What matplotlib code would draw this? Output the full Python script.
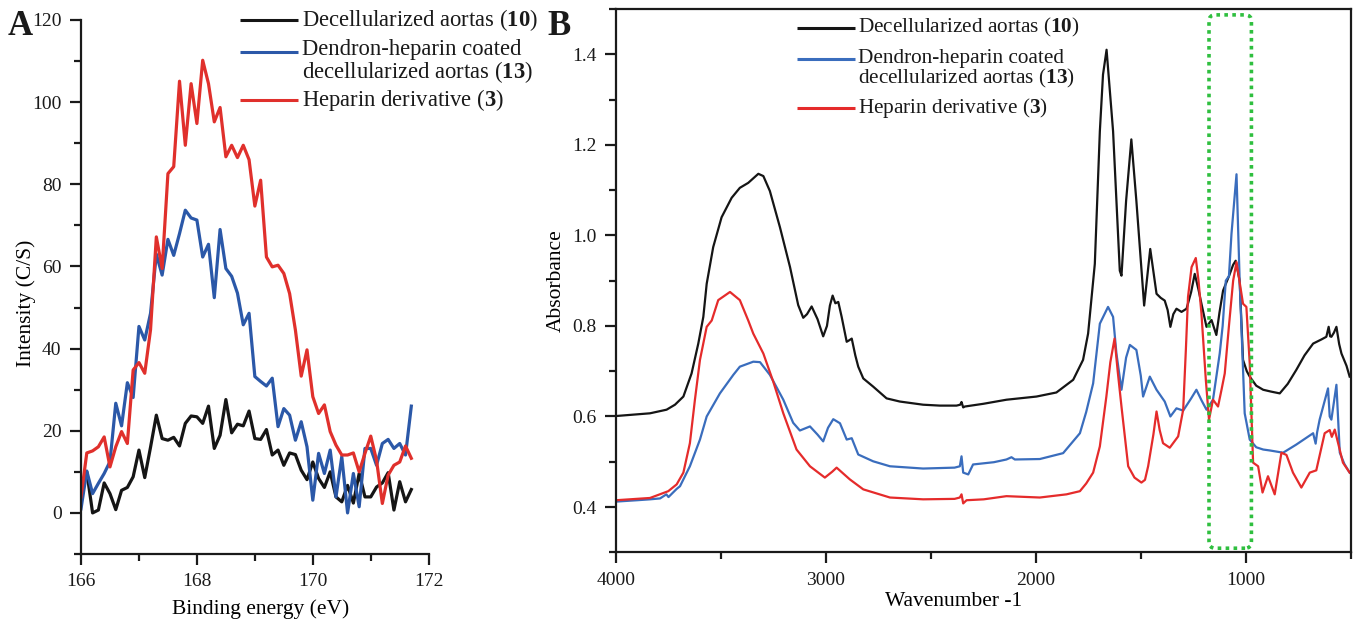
import numpy as np
import matplotlib
matplotlib.use('Agg')
import matplotlib.pyplot as plt
from matplotlib.patches import FancyBboxPatch
from matplotlib.ticker import MultipleLocator

plt.rcParams['font.family'] = 'Liberation Serif'
plt.rcParams['mathtext.fontset'] = 'custom'
plt.rcParams['mathtext.rm'] = 'Liberation Serif'
plt.rcParams['mathtext.bf'] = 'Liberation Serif:bold'

# ---- panel A: XPS S2p, 0.1 eV steps from 166.0 to 171.7 ----
energy = np.linspace(166.0, 171.7, 58)
xps_aorta = [5, 10, 0, 0.7, 7.3, 4.7, 0.8, 5.5, 6.2, 8.8, 15.3, 8.6, 16, 23.8, 18.1,
             17.7, 18.4, 16.3, 21.8, 23.6, 23.4, 21.8, 26, 15.7, 18.9, 27.6, 19.5,
             21.6, 21.2, 24.8, 18.1, 17.9, 20.3, 14.1, 15.3, 11.6, 14.6, 14.2, 10.4,
             8.1, 12.4, 8.4, 6.2, 10, 3.9, 2.7, 6.7, 2.4, 9.6, 3.9, 3.9, 6.3, 7.3,
             9.8, 0.7, 7.6, 2.7, 5.7]
xps_coated = [1, 10.2, 4.7, 7.2, 9.6, 12.5, 26.7, 21.2, 31.7, 28.1, 45.4, 42.1, 48.6,
              63, 57.9, 66.6, 62.7, 68, 73.7, 71.8, 71.3, 62.3, 65.4, 52.4, 69, 59.5,
              57.6, 53.5, 45.8, 48.6, 33.2, 32, 30.9, 32.8, 21, 25.4, 23.8, 17.7, 22.2,
              16.1, 3.1, 14.5, 9.6, 15.3, 3.9, 13.7, 0, 9.6, 1.5, 15.7, 15.7, 11.6,
              16.9, 17.9, 15.7, 16.9, 14.1, 26]
xps_heparin = [3.9, 14.6, 15.1, 16.1, 18.5, 11.2, 16.1, 19.8, 16.9, 34.8, 36.6, 34,
               44.6, 67.2, 59.5, 82.6, 84.3, 105.1, 89.5, 104.5, 94.8, 110.2, 104.5,
               95.2, 98.7, 86.7, 89.5, 86.5, 89.5, 86, 74.7, 81, 62.3, 59.9, 60.3, 58.3,
               53.4, 44.5, 33.3, 39.7, 28.3, 24.2, 26.3, 19.8, 16.5, 14.1, 14.1, 14.6,
               10, 14.5, 18.7, 12.8, 2.3, 9.2, 11.6, 12.4, 16.3, 13.3]

# ---- panel B: FTIR ----
wn_aorta = [4000, 3838, 3759, 3719, 3679, 3640, 3608, 3584, 3568, 3537, 3497, 3449, 3410,
            3370, 3322, 3298, 3267, 3219, 3171, 3132, 3108, 3090, 3068, 3040, 3013, 2995,
            2981, 2968, 2955, 2941, 2925, 2901, 2890, 2877, 2860, 2846, 2822, 2775, 2711,
            2648, 2537, 2457, 2378, 2360, 2354, 2346, 2338, 2250, 2140, 1997, 1902, 1822,
            1775, 1751, 1719, 1695, 1680, 1663, 1632, 1600, 1592, 1570, 1545, 1521, 1484,
            1455, 1425, 1405, 1386, 1372, 1359, 1345, 1330, 1306, 1282, 1260, 1243, 1225,
            1211, 1187, 1163, 1140, 1125, 1108, 1080, 1060, 1048, 1029, 1013, 995, 981,
            950, 917, 880, 838, 800, 759, 720, 679, 640, 616, 605, 598, 592, 580, 568,
            555, 544, 520, 505]
ab_aorta = [0.601, 0.607, 0.615, 0.626, 0.644, 0.695, 0.761, 0.820, 0.893, 0.974, 1.040,
            1.083, 1.105, 1.116, 1.136, 1.131, 1.098, 1.018, 0.930, 0.846, 0.818, 0.826,
            0.843, 0.815, 0.777, 0.800, 0.845, 0.867, 0.850, 0.853, 0.820, 0.765, 0.768,
            0.772, 0.735, 0.710, 0.684, 0.666, 0.640, 0.633, 0.626, 0.624, 0.624, 0.626,
            0.632, 0.620, 0.622, 0.628, 0.637, 0.644, 0.653, 0.681, 0.725, 0.783, 0.937,
            1.230, 1.355, 1.410, 1.230, 0.922, 0.911, 1.076, 1.212, 1.076, 0.845, 0.970,
            0.871, 0.862, 0.856, 0.835, 0.798, 0.826, 0.838, 0.831, 0.838, 0.875, 0.915,
            0.880, 0.849, 0.798, 0.813, 0.780, 0.830, 0.878, 0.910, 0.935, 0.944, 0.900,
            0.725, 0.700, 0.688, 0.668, 0.659, 0.655, 0.651, 0.672, 0.703, 0.735, 0.761,
            0.770, 0.776, 0.798, 0.777, 0.776, 0.785, 0.798, 0.760, 0.739, 0.712, 0.688]

wn_coated = [4000, 3900, 3838, 3790, 3760, 3750, 3711, 3695, 3648, 3600, 3568, 3505, 3441,
             3410, 3346, 3314, 3267, 3203, 3156, 3124, 3076, 3040, 3013, 2990, 2965, 2933,
             2901, 2877, 2846, 2775, 2695, 2537, 2387, 2362, 2354, 2346, 2322, 2299, 2200,
             2140, 2116, 2100, 1981, 1870, 1790, 1760, 1727, 1695, 1656, 1632, 1616, 1592,
             1570, 1552, 1521, 1500, 1489, 1457, 1425, 1386, 1359, 1330, 1298, 1260, 1235,
             1210, 1187, 1156, 1124, 1110, 1095, 1080, 1068, 1044, 1029, 1005, 981, 950,
             917, 886, 822, 759, 679, 667, 660, 648, 608, 600, 592, 568, 552, 530, 505]
ab_coated = [0.412, 0.415, 0.417, 0.419, 0.428, 0.422, 0.440, 0.446, 0.490, 0.549, 0.600,
             0.651, 0.692, 0.710, 0.721, 0.720, 0.692, 0.637, 0.586, 0.569, 0.578, 0.560,
             0.545, 0.575, 0.594, 0.585, 0.549, 0.552, 0.516, 0.501, 0.490, 0.485, 0.487,
             0.490, 0.512, 0.476, 0.472, 0.494, 0.499, 0.505, 0.510, 0.505, 0.506, 0.519,
             0.563, 0.610, 0.673, 0.805, 0.842, 0.820, 0.739, 0.659, 0.730, 0.758, 0.747,
             0.690, 0.644, 0.688, 0.659, 0.633, 0.600, 0.618, 0.613, 0.640, 0.659, 0.635,
             0.615, 0.637, 0.739, 0.800, 0.900, 0.910, 1.003, 1.135, 0.900, 0.607, 0.549,
             0.532, 0.527, 0.525, 0.520, 0.538, 0.563, 0.540, 0.565, 0.593, 0.662, 0.600,
             0.593, 0.670, 0.520, 0.495, 0.476]

wn_heparin = [4000, 3838, 3751, 3711, 3679, 3648, 3624, 3600, 3568, 3544, 3513, 3457, 3410,
              3370, 3346, 3298, 3251, 3203, 3140, 3076, 3005, 2970, 2949, 2920, 2886, 2822,
              2695, 2537, 2387, 2362, 2354, 2346, 2330, 2248, 2140, 1981, 1854, 1790, 1760,
              1727, 1695, 1664, 1645, 1625, 1610, 1592, 1560, 1530, 1497, 1480, 1465, 1440,
              1425, 1410, 1394, 1362, 1322, 1298, 1285, 1275, 1258, 1238, 1225, 1211, 1190,
              1175, 1156, 1132, 1115, 1100, 1080, 1060, 1044, 1013, 997, 981, 965, 941, 920,
              894, 862, 830, 806, 775, 735, 695, 664, 624, 600, 590, 576, 537, 505]
ab_heparin = [0.415, 0.420, 0.435, 0.450, 0.476, 0.541, 0.637, 0.725, 0.798, 0.812, 0.857,
              0.875, 0.857, 0.812, 0.783, 0.739, 0.677, 0.607, 0.527, 0.490, 0.465, 0.478,
              0.487, 0.475, 0.461, 0.439, 0.421, 0.417, 0.418, 0.421, 0.428, 0.408, 0.415,
              0.417, 0.424, 0.421, 0.428, 0.435, 0.452, 0.476, 0.534, 0.644, 0.720, 0.772,
              0.700, 0.622, 0.490, 0.465, 0.454, 0.460, 0.490, 0.560, 0.611, 0.570, 0.541,
              0.531, 0.556, 0.615, 0.750, 0.864, 0.930, 0.950, 0.900, 0.827, 0.680, 0.593,
              0.637, 0.622, 0.660, 0.695, 0.800, 0.900, 0.941, 0.849, 0.842, 0.717, 0.498,
              0.490, 0.432, 0.468, 0.428, 0.520, 0.515, 0.476, 0.443, 0.476, 0.481, 0.563,
              0.570, 0.555, 0.571, 0.498, 0.476]

names = ['Decellularized aortas', 'Dendron-heparin coated\ndecellularized aortas',
         'Heparin derivative']
nums = ['10', '13', '3']
band = (973, 1175)   # highlighted wavenumber window

W, H = 1358, 625
fig = plt.figure(figsize=(W / 100, H / 100), dpi=100)


def axes_px(l, t, r, b):
    return fig.add_axes([l / W, 1 - b / H, (r - l) / W, (b - t) / H])


def legend(ax, x0, x1, xt, ys, colors, fs, gap):
    # ys: y of each handle line (axes fraction); gap: spacing between wrapped lines
    for y, name, num, c in zip(ys, names, nums, colors):
        ax.plot([x0, x1], [y, y], color=c, lw=2.2, transform=ax.transAxes,
                clip_on=False, solid_capstyle='butt')
        label = name + r' ($\mathbf{' + num + '}$)'
        nlines = label.count('\n') + 1
        # centre the block so its first line sits on the handle
        yc = y - gap * (nlines - 1) / 2
        ax.text(xt, yc, label, transform=ax.transAxes, fontsize=fs, va='center',
                ha='left', color='#1a1a1a', linespacing=0.95)


tick_kw = dict(direction='out', labelsize=14, colors='#1a1a1a', width=1.6)

# ---------------- panel A ----------------
axA = axes_px(81, 20, 428.7, 554)
colA = ['#151515', '#2b58a8', '#e0302c']
axA.plot(energy, xps_aorta, color=colA[0], lw=2.3)
axA.plot(energy, xps_coated, color=colA[1], lw=2.3)
axA.plot(energy, xps_heparin, color=colA[2], lw=2.3)
axA.set_xlim(166, 172)
axA.set_ylim(-10, 120)
axA.xaxis.set_major_locator(MultipleLocator(2))
axA.xaxis.set_minor_locator(MultipleLocator(1))
axA.yaxis.set_minor_locator(MultipleLocator(10))
axA.set_yticks([0, 20, 40, 60, 80, 100, 120])
for s in ['top', 'right']:
    axA.spines[s].set_visible(False)
for s in ['left', 'bottom']:
    axA.spines[s].set_linewidth(1.6)
    axA.spines[s].set_color('#1a1a1a')
axA.tick_params(which='major', length=8, pad=6, **tick_kw)
axA.tick_params(which='minor', length=5, direction='out', width=1.6, colors='#1a1a1a')
axA.set_xlabel('Binding energy (eV)', fontsize=15.5)
axA.set_ylabel('Intensity (C/S)', fontsize=15.5)
axA.xaxis.set_label_coords(0.518, -0.084)
axA.yaxis.set_label_coords(-0.128, 0.47)
legend(axA, 0.457, 0.623, 0.636, [1.0, 0.94, 0.85], colA, 16.3, 0.0356)

# ---------------- panel B ----------------
axB = axes_px(616, 9, 1350.7, 552.3)
colB = ['#151515', '#3a6dbd', '#e52b2b']
axB.plot(wn_aorta, ab_aorta, color=colB[0], lw=1.6)
axB.plot(wn_coated, ab_coated, color=colB[1], lw=1.6)
axB.plot(wn_heparin, ab_heparin, color=colB[2], lw=1.6)
axB.set_xlim(4000, 500)
axB.set_ylim(0.3, 1.5)
axB.xaxis.set_major_locator(MultipleLocator(1000))
axB.xaxis.set_minor_locator(MultipleLocator(500))
axB.set_yticks([0.4, 0.6, 0.8, 1.0, 1.2, 1.4])
axB.yaxis.set_minor_locator(MultipleLocator(0.1))
for s in axB.spines.values():
    s.set_linewidth(1.6)
    s.set_color('#1a1a1a')
axB.tick_params(which='major', length=8, pad=6, **tick_kw)
axB.tick_params(which='minor', length=5, direction='out', width=1.6, colors='#1a1a1a')
axB.set_xlabel('Wavenumber -1', fontsize=15.5)
axB.set_ylabel('Absorbance', fontsize=15.5)
axB.xaxis.set_label_coords(0.459, -0.073)
axB.yaxis.set_label_coords(-0.068, 0.5)
legend(axB, 0.247, 0.325, 0.329, [0.9656, 0.9074, 0.8184], colB, 15.3, 0.0381)

box = FancyBboxPatch((band[0], 0.309), band[1] - band[0], 1.178,
                     boxstyle='round,pad=0,rounding_size=30', mutation_aspect=0.00046,
                     fill=False, edgecolor='#2fbf3f', lw=2.6, linestyle=(0, (1, 1.2)),
                     transform=axB.transData, clip_on=False, zorder=5)
axB.add_patch(box)

fig.text(8 / W, 1 - 35 / H, 'A', fontsize=25, fontweight='bold', color='#1a1a1a')
fig.text(547 / W, 1 - 35 / H, 'B', fontsize=25, fontweight='bold', color='#1a1a1a')

fig.savefig('out.png', dpi=100)
